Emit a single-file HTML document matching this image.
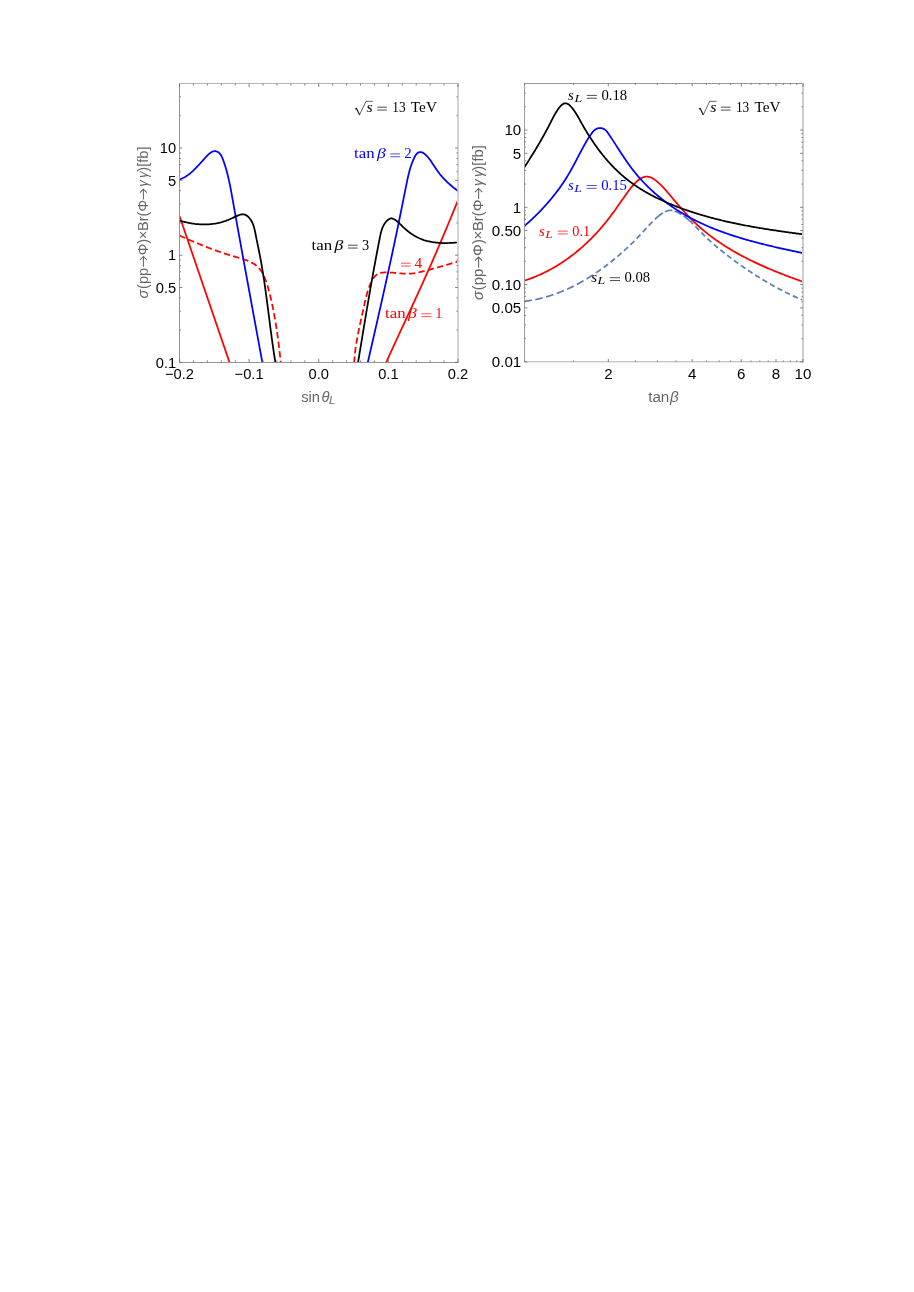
<!DOCTYPE html>
<html lang="en">
<head>
<meta charset="utf-8">
<title>Figure</title>
<style>
html,body{margin:0;padding:0;background:#fff;}
body{width:914px;height:1292px;overflow:hidden;font-family:"Liberation Sans",sans-serif;}
svg{display:block;will-change:transform;}
</style>
</head>
<body>
<svg width="914" height="1292" viewBox="0 0 914 1292">
<defs>
<clipPath id="c1"><rect x="179.5" y="83.5" width="278.5" height="279.2"/></clipPath>
<clipPath id="c2"><rect x="524.5" y="83.5" width="278.5" height="278.7"/></clipPath>
</defs>
<rect width="914" height="1292" fill="#fff"/>
<g clip-path="url(#c1)">
<path d="M179.5,216L229.65,362.8" fill="none" stroke="#ff0000" stroke-width="1.75" stroke-linejoin="round"/>
<path d="M386,362.8L386.5,361.7L386.99,360.6L387.49,359.5L387.99,358.41L388.48,357.31L388.98,356.21L389.48,355.11L389.98,354.01L390.48,352.91L390.99,351.82L391.49,350.72L391.99,349.62L392.49,348.52L393,347.42L393.5,346.33L394.01,345.23L394.51,344.13L395.02,343.03L395.52,341.93L396.03,340.83L396.53,339.74L397.04,338.64L397.55,337.54L398.06,336.44L398.56,335.34L399.07,334.25L399.58,333.15L400.09,332.05L400.6,330.95L401.11,329.85L401.62,328.75L402.13,327.66L402.64,326.56L403.14,325.46L403.65,324.36L404.16,323.26L404.67,322.16L405.18,321.06L405.69,319.96L406.2,318.87L406.71,317.77L407.22,316.67L407.73,315.57L408.24,314.47L408.75,313.37L409.26,312.27L409.77,311.17L410.28,310.07L410.79,308.97L411.3,307.87L411.81,306.77L412.32,305.67L412.83,304.57L413.33,303.47L413.84,302.37L414.35,301.27L414.86,300.17L415.36,299.07L415.87,297.97L416.38,296.87L416.88,295.77L417.39,294.67L417.89,293.56L418.4,292.46L418.9,291.36L419.41,290.26L419.91,289.16L420.41,288.05L420.91,286.95L421.41,285.85L421.92,284.75L422.42,283.64L422.92,282.54L423.41,281.44L423.91,280.33L424.41,279.23L424.91,278.13L425.4,277.02L425.9,275.92L426.4,274.81L426.89,273.71L427.38,272.6L427.88,271.5L428.37,270.39L428.86,269.29L429.35,268.18L429.84,267.08L430.33,265.97L430.81,264.87L431.3,263.76L431.79,262.65L432.27,261.55L432.75,260.44L433.24,259.33L433.72,258.22L434.2,257.11L434.68,256.01L435.16,254.9L435.64,253.79L436.12,252.68L436.6,251.57L437.08,250.46L437.55,249.35L438.03,248.24L438.5,247.13L438.98,246.02L439.45,244.91L439.93,243.8L440.4,242.69L440.87,241.57L441.34,240.46L441.81,239.35L442.28,238.24L442.75,237.12L443.22,236.01L443.69,234.9L444.16,233.78L444.62,232.67L445.09,231.55L445.56,230.44L446.02,229.32L446.49,228.21L446.95,227.09L447.42,225.98L447.88,224.86L448.34,223.74L448.81,222.63L449.27,221.51L449.73,220.39L450.19,219.27L450.66,218.15L451.12,217.03L451.58,215.91L452.04,214.79L452.5,213.67L452.96,212.55L453.42,211.43L453.88,210.31L454.34,209.19L454.8,208.07L455.25,206.94L455.71,205.82L456.17,204.7L456.63,203.57L457.09,202.45L457.54,201.32L458,200.2" fill="none" stroke="#ff0000" stroke-width="1.75" stroke-linejoin="round"/>
<path d="M179.5,235.4L180.63,235.92L181.75,236.44L182.87,236.95L183.99,237.46L185.11,237.96L186.23,238.47L187.35,238.97L188.46,239.46L189.57,239.95L190.69,240.44L191.8,240.93L192.91,241.41L194.02,241.88L195.13,242.36L196.24,242.83L197.35,243.3L198.47,243.76L199.58,244.22L200.69,244.67L201.8,245.13L202.91,245.58L204.03,246.02L205.14,246.46L206.26,246.9L207.37,247.34L208.49,247.77L209.61,248.2L210.73,248.62L211.85,249.04L212.98,249.46L214.11,249.87L215.24,250.28L216.37,250.69L217.5,251.09L218.64,251.49L219.78,251.88L220.93,252.28L222.07,252.66L223.22,253.05L224.38,253.43L225.53,253.81L226.69,254.18L227.86,254.55L229.03,254.92L230.2,255.28L231.38,255.64L232.56,255.99L233.75,256.35L234.94,256.7L236.13,257.04L237.33,257.38L238.53,257.73L239.73,258.08L240.93,258.43L242.12,258.8L243.3,259.17L244.47,259.56L245.63,259.96L246.78,260.38L247.91,260.83L249.02,261.29L250.11,261.79L251.18,262.31L252.22,262.86L253.24,263.45L254.23,264.07L255.19,264.73L256.11,265.43L257,266.17L257.86,266.96L258.67,267.8L259.44,268.69L260.18,269.62L260.88,270.59L261.54,271.6L262.16,272.64L262.76,273.71L263.32,274.79L263.86,275.9L264.37,277.03L264.85,278.16L265.3,279.3L265.74,280.46L266.15,281.62L266.55,282.79L266.93,283.96L267.29,285.14L267.65,286.32L267.99,287.51L268.32,288.69L268.64,289.88L268.96,291.06L269.27,292.25L269.58,293.44L269.88,294.62L270.18,295.81L270.47,296.99L270.75,298.18L271.03,299.36L271.31,300.55L271.58,301.73L271.84,302.92L272.1,304.11L272.36,305.29L272.61,306.48L272.86,307.66L273.1,308.85L273.34,310.03L273.57,311.22L273.8,312.41L274.02,313.59L274.24,314.78L274.46,315.97L274.67,317.15L274.88,318.34L275.09,319.53L275.29,320.72L275.49,321.91L275.68,323.1L275.88,324.29L276.06,325.48L276.25,326.67L276.43,327.86L276.61,329.05L276.79,330.25L276.96,331.44L277.14,332.64L277.3,333.83L277.47,335.03L277.64,336.22L277.8,337.42L277.96,338.62L278.12,339.82L278.27,341.02L278.43,342.22L278.58,343.42L278.73,344.62L278.88,345.83L279.03,347.03L279.17,348.24L279.32,349.45L279.46,350.65L279.6,351.86L279.74,353.07L279.89,354.28L280.02,355.5L280.16,356.71L280.3,357.93L280.44,359.14L280.58,360.36L280.71,361.58L280.85,362.8" fill="none" stroke="#ff0000" stroke-width="1.75" stroke-linejoin="round" stroke-dasharray="6.3 3.3"/>
<path d="M354.2,362.8L354.26,361.61L354.33,360.41L354.41,359.22L354.49,358.02L354.59,356.83L354.7,355.63L354.82,354.43L354.95,353.23L355.08,352.04L355.23,350.84L355.38,349.64L355.54,348.44L355.71,347.24L355.89,346.04L356.07,344.84L356.26,343.64L356.46,342.44L356.66,341.24L356.87,340.04L357.08,338.84L357.3,337.64L357.52,336.44L357.75,335.24L357.99,334.05L358.22,332.85L358.47,331.65L358.71,330.45L358.96,329.26L359.21,328.06L359.46,326.86L359.72,325.67L359.98,324.48L360.24,323.28L360.5,322.09L360.77,320.9L361.03,319.71L361.3,318.52L361.56,317.33L361.83,316.14L362.09,314.96L362.36,313.77L362.62,312.59L362.89,311.41L363.15,310.23L363.41,309.05L363.67,307.87L363.92,306.69L364.18,305.52L364.43,304.34L364.69,303.17L364.94,302L365.2,300.84L365.47,299.67L365.74,298.5L366.02,297.34L366.31,296.18L366.61,295.02L366.92,293.87L367.25,292.71L367.6,291.56L367.96,290.41L368.34,289.27L368.74,288.12L369.16,286.98L369.6,285.84L370.07,284.7L370.57,283.57L371.09,282.43L371.64,281.31L372.23,280.2L372.86,279.12L373.52,278.08L374.24,277.11L375,276.2L375.82,275.38L376.7,274.66L377.65,274.05L378.65,273.56L379.71,273.17L380.82,272.88L381.98,272.66L383.16,272.52L384.37,272.44L385.59,272.41L386.82,272.42L388.06,272.45L389.29,272.5L390.53,272.57L391.76,272.65L392.98,272.74L394.21,272.84L395.43,272.95L396.66,273.06L397.88,273.17L399.09,273.28L400.31,273.38L401.52,273.47L402.74,273.55L403.95,273.62L405.16,273.67L406.36,273.7L407.57,273.71L408.77,273.69L409.97,273.64L411.17,273.57L412.37,273.46L413.56,273.32L414.76,273.15L415.95,272.95L417.14,272.73L418.33,272.49L419.51,272.23L420.7,271.95L421.88,271.66L423.06,271.36L424.24,271.05L425.42,270.74L426.6,270.42L427.77,270.1L428.94,269.79L430.12,269.47L431.29,269.15L432.45,268.83L433.62,268.52L434.79,268.2L435.95,267.88L437.12,267.56L438.28,267.24L439.44,266.91L440.61,266.59L441.77,266.26L442.93,265.93L444.09,265.6L445.25,265.27L446.41,264.94L447.56,264.6L448.72,264.26L449.88,263.91L451.04,263.57L452.2,263.21L453.36,262.86L454.52,262.5L455.68,262.14L456.84,261.77L458,261.4" fill="none" stroke="#ff0000" stroke-width="1.75" stroke-linejoin="round" stroke-dasharray="6.3 3.3"/>
<path d="M179.5,179.5L180.7,179.06L181.87,178.58L183,178.05L184.09,177.49L185.15,176.89L186.18,176.26L187.19,175.6L188.16,174.91L189.11,174.2L190.04,173.45L190.95,172.69L191.84,171.91L192.71,171.11L193.56,170.3L194.41,169.47L195.24,168.64L196.06,167.79L196.88,166.94L197.69,166.09L198.5,165.23L199.31,164.37L200.12,163.5L200.93,162.62L201.74,161.73L202.56,160.82L203.4,159.9L204.24,158.95L205.09,157.99L205.96,157.02L206.85,156.06L207.75,155.13L208.68,154.24L209.63,153.42L210.6,152.68L211.6,152.06L212.62,151.57L213.67,151.26L214.74,151.14L215.84,151.24L216.93,151.55L217.96,152.04L218.88,152.67L219.69,153.44L220.42,154.32L221.06,155.29L221.63,156.34L222.15,157.44L222.63,158.59L223.07,159.76L223.5,160.94L223.91,162.11L224.32,163.29L224.71,164.47L225.08,165.65L225.45,166.83L225.8,168.01L226.15,169.19L226.48,170.37L226.81,171.55L227.12,172.73L227.43,173.91L227.72,175.09L228.01,176.27L228.29,177.45L228.57,178.64L228.83,179.82L229.09,181L229.35,182.18L229.6,183.36L229.84,184.55L230.08,185.73L230.31,186.91L230.54,188.1L230.77,189.28L230.99,190.46L231.21,191.65L231.42,192.83L231.64,194.01L231.85,195.2L232.06,196.38L232.27,197.57L232.49,198.75L232.7,199.94L232.91,201.12L233.12,202.31L233.33,203.49L233.54,204.68L233.75,205.86L233.96,207.05L234.17,208.24L234.39,209.42L234.6,210.61L234.81,211.8L235.02,212.98L235.23,214.17L235.45,215.36L235.66,216.54L235.87,217.73L236.09,218.92L236.3,220.11L236.51,221.29L236.73,222.48L236.94,223.67L237.15,224.86L237.37,226.05L237.58,227.23L237.8,228.42L238.01,229.61L238.23,230.8L238.44,231.99L238.66,233.18L238.87,234.37L239.09,235.55L239.3,236.74L239.52,237.93L239.73,239.12L239.95,240.31L240.16,241.5L240.38,242.69L240.6,243.88L240.81,245.07L241.03,246.26L241.24,247.45L241.46,248.64L241.68,249.83L241.89,251.02L242.11,252.21L242.33,253.4L242.54,254.59L242.76,255.78L242.98,256.97L243.2,258.16L243.41,259.35L243.63,260.54L243.85,261.73L244.07,262.92L244.28,264.11L244.5,265.3L244.72,266.49L244.94,267.68L245.15,268.87L245.37,270.06L245.59,271.26L245.81,272.45L246.03,273.64L246.24,274.83L246.46,276.02L246.68,277.21L246.9,278.4L247.12,279.59L247.34,280.78L247.55,281.97L247.77,283.16L247.99,284.35L248.21,285.54L248.43,286.74L248.65,287.93L248.87,289.12L249.09,290.31L249.3,291.5L249.52,292.69L249.74,293.88L249.96,295.07L250.18,296.26L250.4,297.45L250.62,298.64L250.84,299.83L251.05,301.02L251.27,302.21L251.49,303.4L251.71,304.59L251.93,305.78L252.15,306.97L252.37,308.16L252.59,309.35L252.81,310.54L253.03,311.73L253.24,312.92L253.46,314.11L253.68,315.3L253.9,316.49L254.12,317.68L254.34,318.87L254.56,320.06L254.78,321.25L254.99,322.44L255.21,323.63L255.43,324.82L255.65,326L255.87,327.19L256.09,328.38L256.31,329.57L256.52,330.76L256.74,331.95L256.96,333.14L257.18,334.32L257.4,335.51L257.62,336.7L257.83,337.89L258.05,339.08L258.27,340.26L258.49,341.45L258.71,342.64L258.92,343.83L259.14,345.01L259.36,346.2L259.58,347.39L259.8,348.57L260.01,349.76L260.23,350.95L260.45,352.13L260.67,353.32L260.88,354.5L261.1,355.69L261.32,356.87L261.53,358.06L261.75,359.25L261.97,360.43L262.18,361.62L262.4,362.8" fill="none" stroke="#0000ff" stroke-width="1.75" stroke-linejoin="round"/>
<path d="M367.7,362.8L367.97,361.63L368.24,360.45L368.51,359.28L368.78,358.1L369.05,356.92L369.32,355.75L369.59,354.57L369.86,353.4L370.13,352.22L370.4,351.05L370.67,349.87L370.94,348.69L371.21,347.52L371.48,346.34L371.75,345.16L372.01,343.99L372.28,342.81L372.55,341.63L372.82,340.46L373.09,339.28L373.36,338.1L373.63,336.92L373.9,335.75L374.17,334.57L374.44,333.39L374.71,332.21L374.98,331.04L375.24,329.86L375.51,328.68L375.78,327.5L376.05,326.32L376.32,325.14L376.59,323.96L376.85,322.79L377.12,321.61L377.39,320.43L377.66,319.25L377.92,318.07L378.19,316.89L378.46,315.71L378.73,314.53L378.99,313.35L379.26,312.17L379.53,310.99L379.79,309.81L380.06,308.63L380.33,307.45L380.59,306.27L380.86,305.09L381.12,303.91L381.39,302.73L381.65,301.55L381.92,300.37L382.18,299.19L382.45,298.01L382.71,296.83L382.98,295.65L383.24,294.47L383.5,293.29L383.77,292.11L384.03,290.92L384.29,289.74L384.56,288.56L384.82,287.38L385.08,286.2L385.34,285.02L385.61,283.84L385.87,282.65L386.13,281.47L386.39,280.29L386.65,279.11L386.91,277.93L387.17,276.75L387.43,275.56L387.69,274.38L387.95,273.2L388.21,272.02L388.47,270.84L388.73,269.65L388.98,268.47L389.24,267.29L389.5,266.11L389.76,264.92L390.01,263.74L390.27,262.56L390.53,261.38L390.78,260.19L391.04,259.01L391.29,257.83L391.55,256.65L391.8,255.46L392.06,254.28L392.31,253.1L392.56,251.92L392.82,250.73L393.07,249.55L393.32,248.37L393.57,247.18L393.83,246L394.08,244.82L394.33,243.64L394.58,242.45L394.83,241.27L395.08,240.09L395.33,238.9L395.57,237.72L395.82,236.54L396.07,235.35L396.32,234.17L396.56,232.99L396.81,231.8L397.06,230.62L397.3,229.44L397.55,228.26L397.79,227.07L398.04,225.89L398.28,224.71L398.52,223.52L398.77,222.34L399.01,221.16L399.25,219.97L399.49,218.79L399.74,217.61L399.98,216.42L400.22,215.24L400.46,214.06L400.7,212.87L400.94,211.69L401.18,210.51L401.42,209.33L401.65,208.14L401.89,206.96L402.13,205.78L402.37,204.59L402.61,203.41L402.85,202.23L403.08,201.04L403.32,199.86L403.56,198.68L403.8,197.5L404.04,196.31L404.27,195.13L404.51,193.95L404.75,192.76L404.99,191.58L405.22,190.4L405.46,189.22L405.7,188.03L405.94,186.85L406.17,185.67L406.41,184.48L406.65,183.3L406.89,182.12L407.14,180.94L407.38,179.76L407.64,178.58L407.9,177.4L408.16,176.22L408.44,175.04L408.72,173.87L409.02,172.69L409.33,171.52L409.65,170.35L409.98,169.18L410.33,168.01L410.7,166.85L411.08,165.69L411.48,164.53L411.9,163.37L412.34,162.21L412.8,161.06L413.28,159.91L413.79,158.77L414.32,157.63L414.89,156.5L415.5,155.41L416.18,154.41L416.95,153.54L417.83,152.84L418.81,152.35L419.85,152.12L420.93,152.14L422.01,152.39L423.06,152.85L424.05,153.48L425,154.24L425.9,155.06L426.77,155.91L427.59,156.8L428.39,157.72L429.15,158.67L429.89,159.64L430.61,160.63L431.31,161.63L431.99,162.65L432.67,163.68L433.33,164.71L434,165.74L434.66,166.78L435.33,167.81L436,168.83L436.69,169.84L437.38,170.84L438.1,171.83L438.83,172.79L439.57,173.75L440.33,174.69L441.1,175.61L441.88,176.53L442.68,177.43L443.49,178.31L444.32,179.19L445.15,180.05L446,180.9L446.86,181.74L447.73,182.57L448.61,183.38L449.51,184.19L450.41,184.98L451.33,185.77L452.25,186.54L453.19,187.31L454.13,188.06L455.09,188.81L456.05,189.55L457.02,190.28L458,191" fill="none" stroke="#0000ff" stroke-width="1.75" stroke-linejoin="round"/>
<path d="M179.5,220.6L180.67,220.95L181.85,221.28L183.03,221.59L184.21,221.89L185.4,222.18L186.58,222.45L187.77,222.71L188.96,222.94L190.14,223.17L191.34,223.37L192.53,223.56L193.72,223.73L194.91,223.89L196.11,224.02L197.3,224.14L198.5,224.24L199.69,224.32L200.89,224.39L202.08,224.43L203.28,224.45L204.47,224.46L205.66,224.44L206.86,224.41L208.05,224.35L209.24,224.27L210.43,224.17L211.62,224.05L212.8,223.91L213.99,223.75L215.17,223.56L216.35,223.36L217.53,223.13L218.71,222.87L219.88,222.6L221.06,222.3L222.23,221.97L223.39,221.62L224.56,221.25L225.72,220.86L226.87,220.43L228.03,219.99L229.18,219.51L230.33,219.02L231.47,218.49L232.61,217.95L233.74,217.41L234.87,216.87L236,216.35L237.13,215.86L238.25,215.42L239.37,215.02L240.48,214.7L241.6,214.45L242.71,214.32L243.81,214.38L244.91,214.67L245.97,215.15L246.98,215.79L247.93,216.55L248.8,217.39L249.6,218.28L250.33,219.22L251,220.2L251.6,221.22L252.15,222.27L252.64,223.35L253.09,224.47L253.49,225.6L253.86,226.76L254.2,227.94L254.5,229.13L254.78,230.33L255.05,231.55L255.3,232.76L255.54,233.98L255.77,235.2L256.01,236.41L256.24,237.62L256.48,238.82L256.72,240.02L256.97,241.21L257.21,242.4L257.46,243.58L257.7,244.76L257.95,245.94L258.19,247.11L258.43,248.28L258.67,249.46L258.91,250.63L259.15,251.8L259.38,252.98L259.61,254.15L259.84,255.33L260.07,256.51L260.29,257.69L260.51,258.87L260.73,260.05L260.94,261.23L261.15,262.41L261.36,263.59L261.57,264.78L261.77,265.96L261.97,267.15L262.17,268.33L262.37,269.52L262.57,270.71L262.76,271.9L262.95,273.09L263.14,274.28L263.33,275.47L263.51,276.66L263.69,277.85L263.88,279.05L264.06,280.24L264.23,281.43L264.41,282.63L264.58,283.82L264.76,285.02L264.93,286.21L265.1,287.41L265.27,288.61L265.44,289.8L265.6,291L265.77,292.2L265.93,293.4L266.1,294.6L266.26,295.8L266.42,297L266.58,298.2L266.74,299.4L266.9,300.6L267.06,301.8L267.21,303L267.37,304.2L267.53,305.4L267.68,306.6L267.84,307.8L267.99,309L268.15,310.2L268.3,311.4L268.45,312.61L268.61,313.81L268.76,315.01L268.92,316.21L269.07,317.41L269.22,318.61L269.38,319.81L269.53,321.01L269.68,322.21L269.84,323.41L269.99,324.62L270.15,325.82L270.3,327.02L270.46,328.21L270.62,329.41L270.77,330.61L270.93,331.81L271.09,333.01L271.25,334.21L271.41,335.41L271.57,336.6L271.73,337.8L271.9,339L272.06,340.19L272.22,341.39L272.39,342.58L272.56,343.78L272.73,344.97L272.9,346.17L273.07,347.36L273.24,348.55L273.42,349.74L273.59,350.93L273.77,352.12L273.95,353.31L274.13,354.5L274.31,355.69L274.5,356.88L274.68,358.06L274.87,359.25L275.06,360.43L275.26,361.62L275.45,362.8" fill="none" stroke="#000000" stroke-width="1.75" stroke-linejoin="round"/>
<path d="M358,362.8L358.2,361.6L358.4,360.39L358.6,359.19L358.79,357.99L358.99,356.79L359.19,355.59L359.39,354.39L359.59,353.19L359.78,351.99L359.98,350.79L360.18,349.59L360.37,348.4L360.57,347.2L360.77,346L360.97,344.81L361.16,343.61L361.36,342.41L361.56,341.22L361.75,340.03L361.95,338.83L362.15,337.64L362.34,336.45L362.54,335.25L362.74,334.06L362.93,332.87L363.13,331.68L363.33,330.49L363.53,329.29L363.72,328.1L363.92,326.91L364.12,325.72L364.32,324.53L364.51,323.34L364.71,322.15L364.91,320.97L365.11,319.78L365.31,318.59L365.5,317.4L365.7,316.21L365.9,315.02L366.1,313.83L366.3,312.65L366.5,311.46L366.7,310.27L366.9,309.08L367.1,307.9L367.3,306.71L367.51,305.52L367.71,304.33L367.91,303.15L368.11,301.96L368.31,300.77L368.52,299.59L368.72,298.4L368.92,297.21L369.13,296.03L369.33,294.84L369.54,293.65L369.74,292.46L369.95,291.28L370.16,290.09L370.36,288.9L370.57,287.71L370.78,286.53L370.99,285.34L371.2,284.15L371.41,282.96L371.62,281.78L371.83,280.59L372.04,279.4L372.25,278.21L372.46,277.02L372.67,275.83L372.89,274.64L373.1,273.45L373.32,272.26L373.53,271.07L373.75,269.88L373.96,268.69L374.18,267.5L374.4,266.31L374.62,265.12L374.84,263.93L375.06,262.73L375.28,261.54L375.5,260.35L375.72,259.15L375.95,257.96L376.17,256.77L376.39,255.57L376.62,254.38L376.85,253.18L377.07,251.98L377.3,250.79L377.53,249.59L377.76,248.39L377.99,247.2L378.22,246L378.45,244.8L378.69,243.6L378.92,242.4L379.16,241.2L379.39,240L379.63,238.79L379.87,237.59L380.11,236.39L380.36,235.19L380.62,234L380.9,232.82L381.2,231.65L381.54,230.49L381.9,229.35L382.3,228.23L382.74,227.13L383.23,226.06L383.78,225.02L384.38,224.01L385.04,223.03L385.77,222.08L386.57,221.18L387.45,220.32L388.4,219.54L389.4,218.9L390.45,218.49L391.51,218.39L392.58,218.6L393.64,219.02L394.67,219.56L395.67,220.2L396.65,220.92L397.61,221.71L398.55,222.55L399.48,223.43L400.4,224.33L401.31,225.24L402.21,226.14L403.11,227.02L404,227.87L404.91,228.7L405.82,229.5L406.73,230.29L407.66,231.05L408.61,231.79L409.56,232.52L410.54,233.22L411.53,233.9L412.53,234.56L413.54,235.19L414.57,235.81L415.62,236.4L416.67,236.97L417.74,237.51L418.82,238.03L419.91,238.52L421.02,238.98L422.13,239.42L423.26,239.83L424.39,240.22L425.54,240.57L426.7,240.9L427.86,241.2L429.04,241.47L430.22,241.72L431.41,241.95L432.6,242.15L433.8,242.33L435.01,242.48L436.22,242.62L437.43,242.73L438.65,242.83L439.87,242.91L441.09,242.97L442.31,243.01L443.53,243.04L444.75,243.05L445.98,243.04L447.2,243.03L448.41,243L449.63,242.96L450.84,242.9L452.05,242.84L453.25,242.77L454.45,242.69L455.64,242.6L456.82,242.5L458,242.4" fill="none" stroke="#000000" stroke-width="1.75" stroke-linejoin="round"/>
</g>
<g clip-path="url(#c2)">
<path d="M524.4,301.3L525.61,301.15L526.82,300.99L528.03,300.82L529.23,300.64L530.43,300.44L531.63,300.24L532.82,300.03L534.01,299.8L535.2,299.57L536.39,299.32L537.57,299.07L538.74,298.81L539.92,298.53L541.09,298.25L542.26,297.95L543.42,297.65L544.58,297.34L545.74,297.01L546.89,296.68L548.05,296.34L549.19,295.99L550.34,295.63L551.48,295.26L552.62,294.88L553.75,294.49L554.88,294.1L556.01,293.69L557.14,293.28L558.26,292.86L559.38,292.43L560.49,291.99L561.6,291.54L562.71,291.08L563.82,290.62L564.92,290.15L566.02,289.67L567.11,289.18L568.2,288.68L569.29,288.18L570.38,287.67L571.46,287.15L572.54,286.62L573.61,286.08L574.69,285.54L575.75,284.99L576.82,284.44L577.88,283.87L578.94,283.3L579.99,282.72L581.05,282.14L582.1,281.55L583.14,280.95L584.18,280.34L585.22,279.73L586.26,279.11L587.29,278.49L588.32,277.86L589.34,277.22L590.36,276.58L591.38,275.93L592.39,275.27L593.41,274.61L594.41,273.94L595.42,273.27L596.42,272.59" fill="none" stroke="#5e81b5" stroke-width="1.75" stroke-dasharray="7.6 3.5"/>
<path d="M596.42,272.59L597.42,271.9L598.41,271.21L599.4,270.52L600.39,269.82L601.38,269.11L602.36,268.4L603.34,267.68L604.31,266.96L605.28,266.23L606.25,265.5L607.21,264.76L608.17,264.02L609.13,263.28L610.08,262.53L611.03,261.77L611.98,261.01L612.92,260.25L613.86,259.48L614.8,258.71L615.73,257.93L616.66,257.15L617.59,256.37L618.51,255.58L619.43,254.79L620.35,253.99L621.26,253.19L622.17,252.39L623.08,251.58L623.98,250.77L624.88,249.96L625.77,249.14L626.66,248.33L627.55,247.5L628.43,246.68L629.3,245.85L630.18,245.02L631.04,244.19L631.91,243.35L632.76,242.51L633.62,241.67L634.46,240.83L635.3,239.98L636.14,239.13L636.97,238.29L637.8,237.43L638.61,236.58L639.43,235.72L640.23,234.87L641.03,234.01L641.83,233.15L642.62,232.29L643.41,231.42L644.19,230.56L644.98,229.69L645.77,228.82L646.56,227.96L647.36,227.09L648.16,226.22L648.98,225.35L649.8,224.47L650.64,223.6L651.48,222.73L652.35,221.85L653.23,220.98L654.12,220.11L655.04,219.23L655.98,218.37L656.93,217.51" fill="none" stroke="#5e81b5" stroke-width="1.75" stroke-dasharray="5.5 3.3"/>
<path d="M656.93,217.51L657.91,216.67L658.89,215.85L659.9,215.06L660.92,214.3L661.96,213.58L663.01,212.91L664.07,212.28L665.15,211.71L666.23,211.2L667.33,210.79L668.44,210.49L669.56,210.34L670.69,210.33L671.82,210.44L672.95,210.66L674.07,210.97L675.19,211.36L676.29,211.81L677.38,212.3L678.44,212.82L679.49,213.38L680.52,213.96L681.53,214.58L682.53,215.22L683.51,215.89L684.48,216.58L685.44,217.29L686.38,218.03L687.31,218.79L688.23,219.56L689.14,220.35" fill="none" stroke="#5e81b5" stroke-width="1.75" stroke-dasharray="7.6 2.4"/>
<path d="M689.14,220.35L690.04,221.16L690.93,221.98L691.82,222.82L692.69,223.67L693.56,224.52L694.43,225.39L695.29,226.26L696.15,227.14L697,228.02L697.85,228.9L698.71,229.79L699.56,230.68L700.41,231.56L701.26,232.44L702.11,233.32L702.97,234.19L703.83,235.06L704.7,235.91L705.56,236.76L706.44,237.61L707.31,238.44L708.19,239.27L709.08,240.09L709.96,240.9L710.86,241.71L711.75,242.51L712.65,243.31L713.55,244.1L714.46,244.88L715.37,245.66L716.28,246.44L717.19,247.21L718.11,247.97L719.03,248.74L719.96,249.49L720.89,250.25L721.82,251L722.75,251.75L723.69,252.49L724.63,253.23L725.57,253.97L726.52,254.71L727.46,255.44L728.41,256.17L729.37,256.9L730.32,257.63L731.28,258.35L732.24,259.08L733.21,259.79L734.18,260.51L735.14,261.22L736.12,261.94L737.09,262.64L738.07,263.35L739.05,264.05L740.03,264.75L741.02,265.45L742,266.14L742.99,266.83L743.98,267.52L744.98,268.21L745.98,268.89L746.98,269.57L747.98,270.24L748.98,270.91L749.99,271.58L751,272.25L752.01,272.91L753.02,273.57L754.04,274.23L755.06,274.88L756.08,275.53L757.1,276.18L758.13,276.82L759.15,277.46L760.18,278.09L761.22,278.72L762.25,279.35L763.29,279.98L764.32,280.6L765.37,281.21L766.41,281.83L767.45,282.44L768.5,283.04L769.55,283.64L770.6,284.24L771.65,284.84L772.71,285.43L773.76,286.01L774.82,286.59L775.88,287.17L776.95,287.75L778.01,288.32L779.08,288.88L780.15,289.44L781.22,290L782.29,290.55L783.36,291.1L784.44,291.65L785.52,292.19L786.6,292.72L787.68,293.25L788.76,293.78L789.85,294.3L790.93,294.82L792.02,295.33L793.11,295.84L794.21,296.34L795.3,296.84L796.39,297.34L797.49,297.83L798.59,298.31L799.69,298.79L800.79,299.26L801.89,299.74L803,300.2" fill="none" stroke="#5e81b5" stroke-width="1.75" stroke-dasharray="5.4 3.2"/>
<path d="M524.4,280.6L525.55,280.23L526.7,279.86L527.84,279.47L528.98,279.07L530.12,278.67L531.25,278.25L532.37,277.83L533.5,277.39L534.62,276.95L535.73,276.49L536.85,276.03L537.95,275.56L539.06,275.07L540.16,274.58L541.25,274.08L542.35,273.58L543.43,273.06L544.52,272.53L545.6,272L546.67,271.46L547.74,270.9L548.81,270.34L549.87,269.78L550.93,269.2L551.98,268.61L553.03,268.02L554.08,267.42L555.12,266.81L556.16,266.19L557.19,265.57L558.22,264.94L559.24,264.3L560.26,263.65L561.27,262.99L562.28,262.33L563.29,261.66L564.29,260.98L565.29,260.3L566.28,259.61L567.27,258.91L568.25,258.2L569.23,257.49L570.2,256.77L571.17,256.05L572.13,255.31L573.09,254.57L574.05,253.83L575,253.08L575.94,252.32L576.88,251.55L577.82,250.78L578.75,250.01L579.67,249.22L580.59,248.43L581.51,247.64L582.42,246.84L583.32,246.03L584.22,245.22L585.12,244.4L586.01,243.58L586.89,242.75L587.77,241.92L588.64,241.08L589.51,240.23L590.37,239.38L591.23,238.53L592.08,237.67L592.93,236.81L593.77,235.94L594.6,235.06L595.43,234.18L596.26,233.3L597.07,232.41L597.89,231.52L598.69,230.63L599.49,229.73L600.28,228.82L601.07,227.91L601.85,227L602.63,226.08L603.4,225.16L604.17,224.24L604.93,223.31L605.68,222.38L606.43,221.44L607.18,220.5L607.92,219.56L608.66,218.61L609.39,217.67L610.12,216.71L610.85,215.76L611.57,214.8L612.28,213.84L613,212.88L613.71,211.91L614.41,210.94L615.12,209.97L615.82,208.99L616.52,208.01L617.21,207.03L617.9,206.05L618.59,205.07L619.28,204.08L619.97,203.09L620.65,202.1L621.33,201.11L622.02,200.12L622.7,199.12L623.39,198.13L624.08,197.13L624.77,196.14L625.47,195.15L626.18,194.16L626.89,193.16L627.61,192.18L628.34,191.19L629.08,190.21L629.83,189.23L630.6,188.25L631.37,187.28L632.17,186.32L632.97,185.37L633.8,184.44L634.64,183.53L635.5,182.65L636.38,181.81L637.29,180.99L638.21,180.22L639.17,179.49L640.14,178.81L641.15,178.2L642.18,177.67L643.24,177.24L644.33,176.93L645.43,176.72L646.55,176.64L647.68,176.67L648.8,176.82L649.92,177.1L651.03,177.5L652.12,178.03L653.18,178.65L654.23,179.35L655.25,180.1L656.24,180.88L657.21,181.67L658.15,182.47L659.07,183.29L659.97,184.13L660.85,184.97L661.71,185.83L662.55,186.69L663.38,187.57L664.2,188.45L665.01,189.34L665.81,190.24L666.59,191.15L667.38,192.06L668.15,192.97L668.93,193.88L669.7,194.8L670.48,195.72L671.25,196.64L672.02,197.56L672.8,198.48L673.58,199.41L674.35,200.33L675.13,201.25L675.91,202.17L676.69,203.09L677.48,204.01L678.27,204.92L679.06,205.84L679.85,206.75L680.64,207.66L681.44,208.57L682.24,209.48L683.04,210.38L683.85,211.28L684.66,212.18L685.48,213.07L686.29,213.96L687.12,214.85L687.94,215.73L688.78,216.61L689.61,217.48L690.45,218.35L691.3,219.21L692.15,220.06L693.01,220.91L693.88,221.76L694.74,222.6L695.62,223.43L696.5,224.25L697.39,225.07L698.28,225.88L699.18,226.69L700.08,227.49L700.99,228.28L701.91,229.07L702.83,229.85L703.75,230.62L704.68,231.39L705.62,232.15L706.56,232.91L707.5,233.66L708.45,234.4L709.41,235.14L710.37,235.87L711.33,236.6L712.3,237.32L713.27,238.03L714.25,238.74L715.23,239.45L716.21,240.14L717.2,240.83L718.19,241.52L719.19,242.2L720.19,242.88L721.19,243.55L722.2,244.21L723.21,244.87L724.22,245.52L725.24,246.17L726.26,246.81L727.28,247.45L728.31,248.08L729.34,248.71L730.37,249.33L731.4,249.95L732.44,250.56L733.49,251.17L734.53,251.77L735.58,252.37L736.63,252.96L737.68,253.55L738.74,254.13L739.8,254.71L740.86,255.29L741.92,255.86L742.99,256.42L744.06,256.98L745.13,257.54L746.2,258.09L747.28,258.64L748.35,259.19L749.44,259.73L750.52,260.26L751.6,260.79L752.69,261.32L753.78,261.85L754.87,262.37L755.96,262.88L757.06,263.39L758.15,263.9L759.25,264.41L760.35,264.91L761.46,265.41L762.56,265.9L763.66,266.39L764.77,266.88L765.88,267.37L766.99,267.85L768.1,268.32L769.21,268.8L770.33,269.27L771.44,269.74L772.56,270.2L773.68,270.67L774.8,271.12L775.92,271.58L777.04,272.03L778.16,272.49L779.28,272.93L780.41,273.38L781.53,273.82L782.66,274.26L783.78,274.7L784.91,275.13L786.04,275.57L787.17,276L788.29,276.42L789.42,276.85L790.55,277.27L791.68,277.7L792.81,278.11L793.95,278.53L795.08,278.95L796.21,279.36L797.34,279.77L798.47,280.18L799.6,280.59L800.74,280.99L801.87,281.4L803,281.8" fill="none" stroke="#ff0000" stroke-width="1.75" stroke-linejoin="round"/>
<path d="M524.4,226L525.3,225.22L526.19,224.44L527.08,223.65L527.97,222.86L528.86,222.05L529.74,221.25L530.62,220.44L531.5,219.62L532.38,218.8L533.25,217.97L534.12,217.13L534.99,216.29L535.85,215.45L536.71,214.6L537.56,213.75L538.41,212.89L539.26,212.02L540.11,211.15L540.95,210.28L541.78,209.4L542.61,208.51L543.44,207.62L544.26,206.73L545.08,205.83L545.89,204.92L546.7,204.02L547.5,203.1L548.3,202.19L549.1,201.26L549.88,200.34L550.67,199.41L551.44,198.47L552.22,197.53L552.98,196.59L553.74,195.64L554.5,194.69L555.25,193.74L555.99,192.78L556.72,191.81L557.45,190.85L558.18,189.87L558.9,188.9L559.61,187.92L560.31,186.94L561.01,185.95L561.7,184.96L562.38,183.97L563.06,182.98L563.73,181.98L564.39,180.97L565.04,179.97L565.69,178.96L566.33,177.95L566.96,176.93L567.58,175.91L568.2,174.89L568.81,173.86L569.41,172.84L570,171.81L570.59,170.77L571.17,169.74L571.75,168.7L572.32,167.66L572.89,166.61L573.46,165.57L574.02,164.52L574.58,163.47L575.14,162.41L575.7,161.35L576.25,160.3L576.81,159.23L577.37,158.17L577.92,157.1L578.48,156.04L579.04,154.97L579.6,153.89L580.17,152.82L580.74,151.74L581.31,150.66L581.88,149.58L582.47,148.5L583.05,147.42L583.65,146.33L584.24,145.25L584.85,144.16L585.46,143.08L586.09,142L586.72,140.92L587.35,139.86L588,138.8L588.66,137.76L589.33,136.73L590.01,135.71L590.7,134.71L591.41,133.73L592.13,132.78L592.87,131.85L593.64,130.98L594.47,130.19L595.37,129.49L596.34,128.9L597.42,128.46L598.6,128.16L599.87,128.05L601.16,128.13L602.42,128.41L603.61,128.86L604.67,129.46L605.59,130.18L606.4,130.99L607.14,131.88L607.82,132.81L608.48,133.77L609.14,134.73L609.8,135.7L610.46,136.68L611.11,137.66L611.76,138.64L612.41,139.63L613.06,140.63L613.71,141.63L614.36,142.63L615,143.63L615.65,144.64L616.3,145.65L616.95,146.67L617.6,147.68L618.25,148.7L618.9,149.71L619.55,150.73L620.21,151.75L620.86,152.76L621.52,153.78L622.19,154.8L622.85,155.81L623.52,156.82L624.2,157.83L624.87,158.84L625.56,159.85L626.24,160.85L626.94,161.85L627.63,162.85L628.34,163.84L629.04,164.82L629.76,165.81L630.48,166.78L631.21,167.75L631.94,168.72L632.68,169.68L633.43,170.63L634.18,171.58L634.95,172.52L635.71,173.46L636.49,174.39L637.27,175.32L638.05,176.24L638.84,177.15L639.64,178.06L640.45,178.96L641.26,179.85L642.07,180.74L642.9,181.63L643.73,182.51L644.56,183.38L645.4,184.25L646.25,185.11L647.1,185.96L647.95,186.81L648.82,187.65L649.69,188.49L650.56,189.32L651.44,190.14L652.33,190.96L653.22,191.77L654.11,192.58L655.01,193.38L655.92,194.17L656.83,194.96L657.75,195.74L658.67,196.51L659.59,197.28L660.53,198.05L661.46,198.8L662.4,199.55L663.35,200.3L664.3,201.03L665.26,201.76L666.22,202.49L667.18,203.21L668.15,203.92L669.12,204.62L670.1,205.32L671.09,206.02L672.07,206.7L673.07,207.38L674.06,208.05L675.06,208.72L676.07,209.38L677.07,210.04L678.09,210.68L679.1,211.32L680.12,211.96L681.15,212.58L682.18,213.2L683.21,213.82L684.24,214.43L685.28,215.03L686.33,215.62L687.37,216.21L688.43,216.79L689.48,217.37L690.54,217.94L691.6,218.5L692.66,219.06L693.73,219.61L694.8,220.15L695.87,220.69L696.95,221.23L698.03,221.75L699.12,222.27L700.2,222.79L701.29,223.3L702.39,223.81L703.48,224.31L704.58,224.8L705.68,225.29L706.78,225.77L707.89,226.25L709,226.72L710.11,227.19L711.22,227.66L712.34,228.11L713.46,228.57L714.58,229.01L715.71,229.46L716.83,229.9L717.96,230.33L719.09,230.76L720.22,231.18L721.36,231.6L722.5,232.02L723.63,232.43L724.77,232.84L725.92,233.24L727.06,233.64L728.21,234.03L729.36,234.42L730.51,234.81L731.66,235.19L732.81,235.56L733.96,235.94L735.12,236.31L736.28,236.67L737.44,237.04L738.6,237.4L739.76,237.75L740.92,238.1L742.08,238.45L743.25,238.79L744.41,239.14L745.58,239.47L746.75,239.81L747.92,240.14L749.09,240.47L750.26,240.79L751.43,241.12L752.6,241.44L753.78,241.75L754.95,242.07L756.12,242.38L757.3,242.68L758.47,242.99L759.65,243.29L760.82,243.59L762,243.89L763.18,244.19L764.35,244.48L765.53,244.77L766.71,245.06L767.89,245.34L769.06,245.63L770.24,245.91L771.42,246.19L772.59,246.47L773.77,246.74L774.95,247.02L776.12,247.29L777.3,247.56L778.48,247.83L779.65,248.1L780.83,248.36L782,248.63L783.18,248.89L784.35,249.15L785.52,249.41L786.69,249.67L787.86,249.93L789.04,250.19L790.2,250.44L791.37,250.7L792.54,250.95L793.71,251.2L794.87,251.46L796.04,251.71L797.2,251.96L798.36,252.21L799.52,252.46L800.68,252.7L801.84,252.95L803,253.2" fill="none" stroke="#0000ff" stroke-width="1.75" stroke-linejoin="round"/>
<path d="M524.4,167.2L525.05,166.2L525.7,165.2L526.35,164.19L527,163.18L527.65,162.17L528.3,161.16L528.94,160.15L529.59,159.13L530.23,158.11L530.87,157.09L531.51,156.06L532.15,155.04L532.78,154.01L533.42,152.98L534.05,151.95L534.68,150.92L535.31,149.88L535.94,148.84L536.56,147.81L537.18,146.77L537.8,145.72L538.41,144.68L539.03,143.64L539.64,142.59L540.24,141.54L540.85,140.5L541.45,139.45L542.05,138.4L542.64,137.34L543.23,136.29L543.82,135.24L544.41,134.18L544.99,133.13L545.56,132.07L546.14,131.01L546.7,129.96L547.27,128.9L547.83,127.84L548.38,126.78L548.94,125.72L549.48,124.66L550.03,123.6L550.56,122.54L551.1,121.48L551.63,120.41L552.17,119.35L552.72,118.29L553.27,117.23L553.83,116.18L554.41,115.12L555.01,114.07L555.63,113.01L556.27,111.96L556.94,110.92L557.64,109.87L558.38,108.83L559.15,107.79L559.96,106.77L560.81,105.8L561.7,104.94L562.63,104.23L563.6,103.71L564.61,103.41L565.62,103.32L566.64,103.46L567.64,103.83L568.61,104.42L569.55,105.18L570.45,106.06L571.31,106.99L572.13,107.95L572.91,108.92L573.66,109.9L574.38,110.89L575.07,111.9L575.73,112.91L576.37,113.93L576.99,114.96L577.6,116L578.19,117.04L578.78,118.08L579.36,119.13L579.93,120.18L580.5,121.23L581.08,122.28L581.66,123.33L582.25,124.38L582.84,125.42L583.43,126.47L584.04,127.51L584.64,128.55L585.26,129.58L585.87,130.62L586.5,131.65L587.12,132.68L587.76,133.71L588.4,134.73L589.04,135.76L589.69,136.78L590.35,137.79L591.01,138.81L591.67,139.82L592.34,140.82L593.02,141.83L593.7,142.82L594.39,143.82L595.09,144.81L595.79,145.8L596.49,146.78L597.2,147.76L597.92,148.74L598.64,149.71L599.37,150.68L600.1,151.64L600.85,152.59L601.59,153.55L602.34,154.49L603.1,155.43L603.86,156.37L604.63,157.3L605.41,158.23L606.19,159.15L606.98,160.06L607.77,160.97L608.57,161.87L609.38,162.77L610.19,163.66L611.01,164.54L611.83,165.42L612.66,166.29L613.5,167.16L614.34,168.02L615.19,168.87L616.05,169.71L616.91,170.55L617.78,171.38L618.65,172.2L619.54,173.01L620.42,173.82L621.32,174.62L622.22,175.41L623.13,176.2L624.04,176.97L624.96,177.74L625.89,178.5L626.82,179.25L627.76,179.99L628.71,180.73L629.66,181.45L630.62,182.17L631.59,182.88L632.56,183.58L633.53,184.28L634.52,184.96L635.51,185.64L636.5,186.31L637.5,186.98L638.51,187.63L639.52,188.28L640.53,188.92L641.55,189.56L642.58,190.18L643.61,190.8L644.65,191.41L645.69,192.02L646.73,192.62L647.78,193.21L648.83,193.79L649.89,194.37L650.95,194.94L652.02,195.51L653.09,196.07L654.16,196.62L655.24,197.16L656.32,197.7L657.4,198.24L658.49,198.76L659.58,199.28L660.68,199.8L661.78,200.31L662.88,200.81L663.98,201.31L665.09,201.8L666.19,202.28L667.31,202.76L668.42,203.24L669.53,203.71L670.65,204.17L671.77,204.63L672.9,205.09L674.02,205.54L675.15,205.98L676.27,206.42L677.4,206.85L678.54,207.28L679.67,207.71L680.8,208.13L681.94,208.54L683.07,208.95L684.21,209.36L685.35,209.76L686.49,210.16L687.63,210.55L688.77,210.94L689.91,211.32L691.06,211.7L692.2,212.08L693.35,212.45L694.49,212.82L695.64,213.18L696.79,213.54L697.94,213.9L699.09,214.25L700.24,214.6L701.39,214.94L702.55,215.28L703.7,215.62L704.86,215.95L706.01,216.28L707.17,216.6L708.33,216.92L709.49,217.24L710.65,217.55L711.81,217.86L712.97,218.17L714.13,218.48L715.3,218.78L716.46,219.07L717.63,219.37L718.79,219.66L719.96,219.94L721.13,220.23L722.29,220.51L723.46,220.79L724.63,221.06L725.8,221.33L726.98,221.6L728.15,221.86L729.32,222.13L730.49,222.39L731.67,222.64L732.84,222.9L734.02,223.15L735.19,223.4L736.37,223.64L737.55,223.88L738.73,224.13L739.9,224.36L741.08,224.6L742.26,224.83L743.44,225.06L744.62,225.29L745.81,225.51L746.99,225.74L748.17,225.96L749.35,226.18L750.54,226.39L751.72,226.61L752.91,226.82L754.09,227.03L755.28,227.24L756.46,227.44L757.65,227.65L758.84,227.85L760.03,228.05L761.21,228.24L762.4,228.44L763.59,228.64L764.78,228.83L765.97,229.02L767.16,229.21L768.35,229.4L769.54,229.58L770.73,229.77L771.93,229.95L773.12,230.13L774.31,230.31L775.5,230.49L776.7,230.67L777.89,230.84L779.08,231.02L780.28,231.19L781.47,231.36L782.66,231.53L783.86,231.7L785.05,231.87L786.25,232.04L787.44,232.21L788.64,232.37L789.84,232.54L791.03,232.7L792.23,232.86L793.42,233.03L794.62,233.19L795.82,233.35L797.01,233.51L798.21,233.67L799.41,233.83L800.61,233.99L801.8,234.14L803,234.3" fill="none" stroke="#000000" stroke-width="1.75" stroke-linejoin="round"/>
</g>
<rect x="179" y="83" width="1" height="280" fill="rgb(150,150,150)" shape-rendering="crispEdges"/>
<rect x="179" y="83" width="280" height="1" fill="rgb(182,182,182)" shape-rendering="crispEdges"/>
<rect x="179" y="362" width="280" height="1" fill="rgb(150,150,150)" shape-rendering="crispEdges"/>
<rect x="457" y="83" width="2" height="280" fill="rgb(212,212,212)" shape-rendering="crispEdges"/>
<rect x="524" y="83" width="1" height="279" fill="rgb(158,158,158)" shape-rendering="crispEdges"/>
<rect x="524" y="83" width="280" height="1" fill="rgb(152,152,152)" shape-rendering="crispEdges"/>
<rect x="524" y="361" width="280" height="1" fill="rgb(200,200,200)" shape-rendering="crispEdges"/>
<rect x="524" y="362" width="280" height="1" fill="rgb(232,232,232)" shape-rendering="crispEdges"/>
<rect x="802" y="83" width="2" height="280" fill="rgb(206,206,206)" shape-rendering="crispEdges"/>
<line x1="179.5" y1="362.4" x2="179.5" y2="358.9" stroke="#666666" stroke-width="0.8"/>
<line x1="179.5" y1="83.5" x2="179.5" y2="87" stroke="#666666" stroke-width="0.8"/>
<line x1="193.42" y1="362.4" x2="193.42" y2="360.3" stroke="#666666" stroke-width="0.8"/>
<line x1="193.42" y1="83.5" x2="193.42" y2="85.6" stroke="#666666" stroke-width="0.8"/>
<line x1="207.35" y1="362.4" x2="207.35" y2="360.3" stroke="#666666" stroke-width="0.8"/>
<line x1="207.35" y1="83.5" x2="207.35" y2="85.6" stroke="#666666" stroke-width="0.8"/>
<line x1="221.28" y1="362.4" x2="221.28" y2="360.3" stroke="#666666" stroke-width="0.8"/>
<line x1="221.28" y1="83.5" x2="221.28" y2="85.6" stroke="#666666" stroke-width="0.8"/>
<line x1="235.2" y1="362.4" x2="235.2" y2="360.3" stroke="#666666" stroke-width="0.8"/>
<line x1="235.2" y1="83.5" x2="235.2" y2="85.6" stroke="#666666" stroke-width="0.8"/>
<line x1="249.12" y1="362.4" x2="249.12" y2="358.9" stroke="#666666" stroke-width="0.8"/>
<line x1="249.12" y1="83.5" x2="249.12" y2="87" stroke="#666666" stroke-width="0.8"/>
<line x1="263.05" y1="362.4" x2="263.05" y2="360.3" stroke="#666666" stroke-width="0.8"/>
<line x1="263.05" y1="83.5" x2="263.05" y2="85.6" stroke="#666666" stroke-width="0.8"/>
<line x1="276.98" y1="362.4" x2="276.98" y2="360.3" stroke="#666666" stroke-width="0.8"/>
<line x1="276.98" y1="83.5" x2="276.98" y2="85.6" stroke="#666666" stroke-width="0.8"/>
<line x1="290.9" y1="362.4" x2="290.9" y2="360.3" stroke="#666666" stroke-width="0.8"/>
<line x1="290.9" y1="83.5" x2="290.9" y2="85.6" stroke="#666666" stroke-width="0.8"/>
<line x1="304.82" y1="362.4" x2="304.82" y2="360.3" stroke="#666666" stroke-width="0.8"/>
<line x1="304.82" y1="83.5" x2="304.82" y2="85.6" stroke="#666666" stroke-width="0.8"/>
<line x1="318.75" y1="362.4" x2="318.75" y2="358.9" stroke="#666666" stroke-width="0.8"/>
<line x1="318.75" y1="83.5" x2="318.75" y2="87" stroke="#666666" stroke-width="0.8"/>
<line x1="332.67" y1="362.4" x2="332.67" y2="360.3" stroke="#666666" stroke-width="0.8"/>
<line x1="332.67" y1="83.5" x2="332.67" y2="85.6" stroke="#666666" stroke-width="0.8"/>
<line x1="346.6" y1="362.4" x2="346.6" y2="360.3" stroke="#666666" stroke-width="0.8"/>
<line x1="346.6" y1="83.5" x2="346.6" y2="85.6" stroke="#666666" stroke-width="0.8"/>
<line x1="360.52" y1="362.4" x2="360.52" y2="360.3" stroke="#666666" stroke-width="0.8"/>
<line x1="360.52" y1="83.5" x2="360.52" y2="85.6" stroke="#666666" stroke-width="0.8"/>
<line x1="374.45" y1="362.4" x2="374.45" y2="360.3" stroke="#666666" stroke-width="0.8"/>
<line x1="374.45" y1="83.5" x2="374.45" y2="85.6" stroke="#666666" stroke-width="0.8"/>
<line x1="388.38" y1="362.4" x2="388.38" y2="358.9" stroke="#666666" stroke-width="0.8"/>
<line x1="388.38" y1="83.5" x2="388.38" y2="87" stroke="#666666" stroke-width="0.8"/>
<line x1="402.3" y1="362.4" x2="402.3" y2="360.3" stroke="#666666" stroke-width="0.8"/>
<line x1="402.3" y1="83.5" x2="402.3" y2="85.6" stroke="#666666" stroke-width="0.8"/>
<line x1="416.23" y1="362.4" x2="416.23" y2="360.3" stroke="#666666" stroke-width="0.8"/>
<line x1="416.23" y1="83.5" x2="416.23" y2="85.6" stroke="#666666" stroke-width="0.8"/>
<line x1="430.15" y1="362.4" x2="430.15" y2="360.3" stroke="#666666" stroke-width="0.8"/>
<line x1="430.15" y1="83.5" x2="430.15" y2="85.6" stroke="#666666" stroke-width="0.8"/>
<line x1="444.07" y1="362.4" x2="444.07" y2="360.3" stroke="#666666" stroke-width="0.8"/>
<line x1="444.07" y1="83.5" x2="444.07" y2="85.6" stroke="#666666" stroke-width="0.8"/>
<line x1="458" y1="362.4" x2="458" y2="358.9" stroke="#666666" stroke-width="0.8"/>
<line x1="458" y1="83.5" x2="458" y2="87" stroke="#666666" stroke-width="0.8"/>
<line x1="179.5" y1="362.4" x2="182.4" y2="362.4" stroke="#666666" stroke-width="0.8"/>
<line x1="458" y1="362.4" x2="455.1" y2="362.4" stroke="#666666" stroke-width="0.8"/>
<line x1="179.5" y1="330.13" x2="181" y2="330.13" stroke="#666666" stroke-width="0.8"/>
<line x1="458" y1="330.13" x2="456.5" y2="330.13" stroke="#666666" stroke-width="0.8"/>
<line x1="179.5" y1="311.26" x2="181" y2="311.26" stroke="#666666" stroke-width="0.8"/>
<line x1="458" y1="311.26" x2="456.5" y2="311.26" stroke="#666666" stroke-width="0.8"/>
<line x1="179.5" y1="297.87" x2="181" y2="297.87" stroke="#666666" stroke-width="0.8"/>
<line x1="458" y1="297.87" x2="456.5" y2="297.87" stroke="#666666" stroke-width="0.8"/>
<line x1="179.5" y1="287.48" x2="182.4" y2="287.48" stroke="#666666" stroke-width="0.8"/>
<line x1="458" y1="287.48" x2="455.1" y2="287.48" stroke="#666666" stroke-width="0.8"/>
<line x1="179.5" y1="278.99" x2="181" y2="278.99" stroke="#666666" stroke-width="0.8"/>
<line x1="458" y1="278.99" x2="456.5" y2="278.99" stroke="#666666" stroke-width="0.8"/>
<line x1="179.5" y1="271.82" x2="181" y2="271.82" stroke="#666666" stroke-width="0.8"/>
<line x1="458" y1="271.82" x2="456.5" y2="271.82" stroke="#666666" stroke-width="0.8"/>
<line x1="179.5" y1="265.6" x2="181" y2="265.6" stroke="#666666" stroke-width="0.8"/>
<line x1="458" y1="265.6" x2="456.5" y2="265.6" stroke="#666666" stroke-width="0.8"/>
<line x1="179.5" y1="260.12" x2="181" y2="260.12" stroke="#666666" stroke-width="0.8"/>
<line x1="458" y1="260.12" x2="456.5" y2="260.12" stroke="#666666" stroke-width="0.8"/>
<line x1="179.5" y1="255.22" x2="182.4" y2="255.22" stroke="#666666" stroke-width="0.8"/>
<line x1="458" y1="255.22" x2="455.1" y2="255.22" stroke="#666666" stroke-width="0.8"/>
<line x1="179.5" y1="222.95" x2="181" y2="222.95" stroke="#666666" stroke-width="0.8"/>
<line x1="458" y1="222.95" x2="456.5" y2="222.95" stroke="#666666" stroke-width="0.8"/>
<line x1="179.5" y1="204.08" x2="181" y2="204.08" stroke="#666666" stroke-width="0.8"/>
<line x1="458" y1="204.08" x2="456.5" y2="204.08" stroke="#666666" stroke-width="0.8"/>
<line x1="179.5" y1="190.68" x2="181" y2="190.68" stroke="#666666" stroke-width="0.8"/>
<line x1="458" y1="190.68" x2="456.5" y2="190.68" stroke="#666666" stroke-width="0.8"/>
<line x1="179.5" y1="180.3" x2="182.4" y2="180.3" stroke="#666666" stroke-width="0.8"/>
<line x1="458" y1="180.3" x2="455.1" y2="180.3" stroke="#666666" stroke-width="0.8"/>
<line x1="179.5" y1="171.81" x2="181" y2="171.81" stroke="#666666" stroke-width="0.8"/>
<line x1="458" y1="171.81" x2="456.5" y2="171.81" stroke="#666666" stroke-width="0.8"/>
<line x1="179.5" y1="164.63" x2="181" y2="164.63" stroke="#666666" stroke-width="0.8"/>
<line x1="458" y1="164.63" x2="456.5" y2="164.63" stroke="#666666" stroke-width="0.8"/>
<line x1="179.5" y1="158.42" x2="181" y2="158.42" stroke="#666666" stroke-width="0.8"/>
<line x1="458" y1="158.42" x2="456.5" y2="158.42" stroke="#666666" stroke-width="0.8"/>
<line x1="179.5" y1="152.94" x2="181" y2="152.94" stroke="#666666" stroke-width="0.8"/>
<line x1="458" y1="152.94" x2="456.5" y2="152.94" stroke="#666666" stroke-width="0.8"/>
<line x1="179.5" y1="148.03" x2="182.4" y2="148.03" stroke="#666666" stroke-width="0.8"/>
<line x1="458" y1="148.03" x2="455.1" y2="148.03" stroke="#666666" stroke-width="0.8"/>
<line x1="179.5" y1="115.77" x2="181" y2="115.77" stroke="#666666" stroke-width="0.8"/>
<line x1="458" y1="115.77" x2="456.5" y2="115.77" stroke="#666666" stroke-width="0.8"/>
<line x1="179.5" y1="96.89" x2="181" y2="96.89" stroke="#666666" stroke-width="0.8"/>
<line x1="458" y1="96.89" x2="456.5" y2="96.89" stroke="#666666" stroke-width="0.8"/>
<line x1="524.5" y1="361.9" x2="524.5" y2="360.4" stroke="#666666" stroke-width="0.8"/>
<line x1="524.5" y1="83.5" x2="524.5" y2="85" stroke="#666666" stroke-width="0.8"/>
<line x1="573.54" y1="361.9" x2="573.54" y2="360.4" stroke="#666666" stroke-width="0.8"/>
<line x1="573.54" y1="83.5" x2="573.54" y2="85" stroke="#666666" stroke-width="0.8"/>
<line x1="608.34" y1="361.9" x2="608.34" y2="359" stroke="#666666" stroke-width="0.8"/>
<line x1="608.34" y1="83.5" x2="608.34" y2="86.4" stroke="#666666" stroke-width="0.8"/>
<line x1="635.33" y1="361.9" x2="635.33" y2="360.4" stroke="#666666" stroke-width="0.8"/>
<line x1="635.33" y1="83.5" x2="635.33" y2="85" stroke="#666666" stroke-width="0.8"/>
<line x1="657.38" y1="361.9" x2="657.38" y2="360.4" stroke="#666666" stroke-width="0.8"/>
<line x1="657.38" y1="83.5" x2="657.38" y2="85" stroke="#666666" stroke-width="0.8"/>
<line x1="676.02" y1="361.9" x2="676.02" y2="360.4" stroke="#666666" stroke-width="0.8"/>
<line x1="676.02" y1="83.5" x2="676.02" y2="85" stroke="#666666" stroke-width="0.8"/>
<line x1="692.17" y1="361.9" x2="692.17" y2="359" stroke="#666666" stroke-width="0.8"/>
<line x1="692.17" y1="83.5" x2="692.17" y2="86.4" stroke="#666666" stroke-width="0.8"/>
<line x1="706.42" y1="361.9" x2="706.42" y2="360.4" stroke="#666666" stroke-width="0.8"/>
<line x1="706.42" y1="83.5" x2="706.42" y2="85" stroke="#666666" stroke-width="0.8"/>
<line x1="719.16" y1="361.9" x2="719.16" y2="360.4" stroke="#666666" stroke-width="0.8"/>
<line x1="719.16" y1="83.5" x2="719.16" y2="85" stroke="#666666" stroke-width="0.8"/>
<line x1="730.69" y1="361.9" x2="730.69" y2="360.4" stroke="#666666" stroke-width="0.8"/>
<line x1="730.69" y1="83.5" x2="730.69" y2="85" stroke="#666666" stroke-width="0.8"/>
<line x1="741.22" y1="361.9" x2="741.22" y2="359" stroke="#666666" stroke-width="0.8"/>
<line x1="741.22" y1="83.5" x2="741.22" y2="86.4" stroke="#666666" stroke-width="0.8"/>
<line x1="750.9" y1="361.9" x2="750.9" y2="360.4" stroke="#666666" stroke-width="0.8"/>
<line x1="750.9" y1="83.5" x2="750.9" y2="85" stroke="#666666" stroke-width="0.8"/>
<line x1="759.86" y1="361.9" x2="759.86" y2="360.4" stroke="#666666" stroke-width="0.8"/>
<line x1="759.86" y1="83.5" x2="759.86" y2="85" stroke="#666666" stroke-width="0.8"/>
<line x1="768.2" y1="361.9" x2="768.2" y2="360.4" stroke="#666666" stroke-width="0.8"/>
<line x1="768.2" y1="83.5" x2="768.2" y2="85" stroke="#666666" stroke-width="0.8"/>
<line x1="776.01" y1="361.9" x2="776.01" y2="359" stroke="#666666" stroke-width="0.8"/>
<line x1="776.01" y1="83.5" x2="776.01" y2="86.4" stroke="#666666" stroke-width="0.8"/>
<line x1="783.34" y1="361.9" x2="783.34" y2="360.4" stroke="#666666" stroke-width="0.8"/>
<line x1="783.34" y1="83.5" x2="783.34" y2="85" stroke="#666666" stroke-width="0.8"/>
<line x1="790.26" y1="361.9" x2="790.26" y2="360.4" stroke="#666666" stroke-width="0.8"/>
<line x1="790.26" y1="83.5" x2="790.26" y2="85" stroke="#666666" stroke-width="0.8"/>
<line x1="796.8" y1="361.9" x2="796.8" y2="360.4" stroke="#666666" stroke-width="0.8"/>
<line x1="796.8" y1="83.5" x2="796.8" y2="85" stroke="#666666" stroke-width="0.8"/>
<line x1="803" y1="361.9" x2="803" y2="359" stroke="#666666" stroke-width="0.8"/>
<line x1="803" y1="83.5" x2="803" y2="86.4" stroke="#666666" stroke-width="0.8"/>
<line x1="524.5" y1="361.9" x2="527.4" y2="361.9" stroke="#666666" stroke-width="0.8"/>
<line x1="803" y1="361.9" x2="800.1" y2="361.9" stroke="#666666" stroke-width="0.8"/>
<line x1="524.5" y1="338.63" x2="526" y2="338.63" stroke="#666666" stroke-width="0.8"/>
<line x1="803" y1="338.63" x2="801.5" y2="338.63" stroke="#666666" stroke-width="0.8"/>
<line x1="524.5" y1="325.02" x2="526" y2="325.02" stroke="#666666" stroke-width="0.8"/>
<line x1="803" y1="325.02" x2="801.5" y2="325.02" stroke="#666666" stroke-width="0.8"/>
<line x1="524.5" y1="315.37" x2="526" y2="315.37" stroke="#666666" stroke-width="0.8"/>
<line x1="803" y1="315.37" x2="801.5" y2="315.37" stroke="#666666" stroke-width="0.8"/>
<line x1="524.5" y1="307.88" x2="527.4" y2="307.88" stroke="#666666" stroke-width="0.8"/>
<line x1="803" y1="307.88" x2="800.1" y2="307.88" stroke="#666666" stroke-width="0.8"/>
<line x1="524.5" y1="301.76" x2="526" y2="301.76" stroke="#666666" stroke-width="0.8"/>
<line x1="803" y1="301.76" x2="801.5" y2="301.76" stroke="#666666" stroke-width="0.8"/>
<line x1="524.5" y1="296.58" x2="526" y2="296.58" stroke="#666666" stroke-width="0.8"/>
<line x1="803" y1="296.58" x2="801.5" y2="296.58" stroke="#666666" stroke-width="0.8"/>
<line x1="524.5" y1="292.1" x2="526" y2="292.1" stroke="#666666" stroke-width="0.8"/>
<line x1="803" y1="292.1" x2="801.5" y2="292.1" stroke="#666666" stroke-width="0.8"/>
<line x1="524.5" y1="288.15" x2="526" y2="288.15" stroke="#666666" stroke-width="0.8"/>
<line x1="803" y1="288.15" x2="801.5" y2="288.15" stroke="#666666" stroke-width="0.8"/>
<line x1="524.5" y1="284.61" x2="527.4" y2="284.61" stroke="#666666" stroke-width="0.8"/>
<line x1="803" y1="284.61" x2="800.1" y2="284.61" stroke="#666666" stroke-width="0.8"/>
<line x1="524.5" y1="261.34" x2="526" y2="261.34" stroke="#666666" stroke-width="0.8"/>
<line x1="803" y1="261.34" x2="801.5" y2="261.34" stroke="#666666" stroke-width="0.8"/>
<line x1="524.5" y1="247.73" x2="526" y2="247.73" stroke="#666666" stroke-width="0.8"/>
<line x1="803" y1="247.73" x2="801.5" y2="247.73" stroke="#666666" stroke-width="0.8"/>
<line x1="524.5" y1="238.08" x2="526" y2="238.08" stroke="#666666" stroke-width="0.8"/>
<line x1="803" y1="238.08" x2="801.5" y2="238.08" stroke="#666666" stroke-width="0.8"/>
<line x1="524.5" y1="230.59" x2="527.4" y2="230.59" stroke="#666666" stroke-width="0.8"/>
<line x1="803" y1="230.59" x2="800.1" y2="230.59" stroke="#666666" stroke-width="0.8"/>
<line x1="524.5" y1="224.47" x2="526" y2="224.47" stroke="#666666" stroke-width="0.8"/>
<line x1="803" y1="224.47" x2="801.5" y2="224.47" stroke="#666666" stroke-width="0.8"/>
<line x1="524.5" y1="219.29" x2="526" y2="219.29" stroke="#666666" stroke-width="0.8"/>
<line x1="803" y1="219.29" x2="801.5" y2="219.29" stroke="#666666" stroke-width="0.8"/>
<line x1="524.5" y1="214.81" x2="526" y2="214.81" stroke="#666666" stroke-width="0.8"/>
<line x1="803" y1="214.81" x2="801.5" y2="214.81" stroke="#666666" stroke-width="0.8"/>
<line x1="524.5" y1="210.86" x2="526" y2="210.86" stroke="#666666" stroke-width="0.8"/>
<line x1="803" y1="210.86" x2="801.5" y2="210.86" stroke="#666666" stroke-width="0.8"/>
<line x1="524.5" y1="207.32" x2="527.4" y2="207.32" stroke="#666666" stroke-width="0.8"/>
<line x1="803" y1="207.32" x2="800.1" y2="207.32" stroke="#666666" stroke-width="0.8"/>
<line x1="524.5" y1="184.06" x2="526" y2="184.06" stroke="#666666" stroke-width="0.8"/>
<line x1="803" y1="184.06" x2="801.5" y2="184.06" stroke="#666666" stroke-width="0.8"/>
<line x1="524.5" y1="170.45" x2="526" y2="170.45" stroke="#666666" stroke-width="0.8"/>
<line x1="803" y1="170.45" x2="801.5" y2="170.45" stroke="#666666" stroke-width="0.8"/>
<line x1="524.5" y1="160.79" x2="526" y2="160.79" stroke="#666666" stroke-width="0.8"/>
<line x1="803" y1="160.79" x2="801.5" y2="160.79" stroke="#666666" stroke-width="0.8"/>
<line x1="524.5" y1="153.3" x2="527.4" y2="153.3" stroke="#666666" stroke-width="0.8"/>
<line x1="803" y1="153.3" x2="800.1" y2="153.3" stroke="#666666" stroke-width="0.8"/>
<line x1="524.5" y1="147.18" x2="526" y2="147.18" stroke="#666666" stroke-width="0.8"/>
<line x1="803" y1="147.18" x2="801.5" y2="147.18" stroke="#666666" stroke-width="0.8"/>
<line x1="524.5" y1="142" x2="526" y2="142" stroke="#666666" stroke-width="0.8"/>
<line x1="803" y1="142" x2="801.5" y2="142" stroke="#666666" stroke-width="0.8"/>
<line x1="524.5" y1="137.52" x2="526" y2="137.52" stroke="#666666" stroke-width="0.8"/>
<line x1="803" y1="137.52" x2="801.5" y2="137.52" stroke="#666666" stroke-width="0.8"/>
<line x1="524.5" y1="133.57" x2="526" y2="133.57" stroke="#666666" stroke-width="0.8"/>
<line x1="803" y1="133.57" x2="801.5" y2="133.57" stroke="#666666" stroke-width="0.8"/>
<line x1="524.5" y1="130.03" x2="527.4" y2="130.03" stroke="#666666" stroke-width="0.8"/>
<line x1="803" y1="130.03" x2="800.1" y2="130.03" stroke="#666666" stroke-width="0.8"/>
<line x1="524.5" y1="106.77" x2="526" y2="106.77" stroke="#666666" stroke-width="0.8"/>
<line x1="803" y1="106.77" x2="801.5" y2="106.77" stroke="#666666" stroke-width="0.8"/>
<line x1="524.5" y1="93.16" x2="526" y2="93.16" stroke="#666666" stroke-width="0.8"/>
<line x1="803" y1="93.16" x2="801.5" y2="93.16" stroke="#666666" stroke-width="0.8"/>
<text x="179.5" y="378.8" font-family="'Liberation Sans', sans-serif" font-size="14.7" text-anchor="middle" fill="#000">−0.2</text>
<text x="249.12" y="378.8" font-family="'Liberation Sans', sans-serif" font-size="14.7" text-anchor="middle" fill="#000">−0.1</text>
<text x="318.75" y="378.8" font-family="'Liberation Sans', sans-serif" font-size="14.7" text-anchor="middle" fill="#000">0.0</text>
<text x="388.38" y="378.8" font-family="'Liberation Sans', sans-serif" font-size="14.7" text-anchor="middle" fill="#000">0.1</text>
<text x="458" y="378.8" font-family="'Liberation Sans', sans-serif" font-size="14.7" text-anchor="middle" fill="#000">0.2</text>
<text x="176.2" y="367.66" font-family="'Liberation Sans', sans-serif" font-size="14.7" text-anchor="end" fill="#000">0.1</text>
<text x="176.2" y="292.74" font-family="'Liberation Sans', sans-serif" font-size="14.7" text-anchor="end" fill="#000">0.5</text>
<text x="176.2" y="260.48" font-family="'Liberation Sans', sans-serif" font-size="14.7" text-anchor="end" fill="#000">1</text>
<text x="176.2" y="185.56" font-family="'Liberation Sans', sans-serif" font-size="14.7" text-anchor="end" fill="#000">5</text>
<text x="176.2" y="153.29" font-family="'Liberation Sans', sans-serif" font-size="14.7" text-anchor="end" fill="#000">10</text>
<text x="608.34" y="379" font-family="'Liberation Sans', sans-serif" font-size="15.1" text-anchor="middle" fill="#000">2</text>
<text x="692.17" y="379" font-family="'Liberation Sans', sans-serif" font-size="15.1" text-anchor="middle" fill="#000">4</text>
<text x="741.22" y="379" font-family="'Liberation Sans', sans-serif" font-size="15.1" text-anchor="middle" fill="#000">6</text>
<text x="776.01" y="379" font-family="'Liberation Sans', sans-serif" font-size="15.1" text-anchor="middle" fill="#000">8</text>
<text x="803" y="379" font-family="'Liberation Sans', sans-serif" font-size="15.1" text-anchor="middle" fill="#000">10</text>
<text x="521.2" y="367.31" font-family="'Liberation Sans', sans-serif" font-size="15.1" text-anchor="end" fill="#000">0.01</text>
<text x="521.2" y="313.28" font-family="'Liberation Sans', sans-serif" font-size="15.1" text-anchor="end" fill="#000">0.05</text>
<text x="521.2" y="290.02" font-family="'Liberation Sans', sans-serif" font-size="15.1" text-anchor="end" fill="#000">0.10</text>
<text x="521.2" y="235.99" font-family="'Liberation Sans', sans-serif" font-size="15.1" text-anchor="end" fill="#000">0.50</text>
<text x="521.2" y="212.73" font-family="'Liberation Sans', sans-serif" font-size="15.1" text-anchor="end" fill="#000">1</text>
<text x="521.2" y="158.7" font-family="'Liberation Sans', sans-serif" font-size="15.1" text-anchor="end" fill="#000">5</text>
<text x="521.2" y="135.44" font-family="'Liberation Sans', sans-serif" font-size="15.1" text-anchor="end" fill="#000">10</text>
<g transform="translate(147.9,222.75) rotate(-90) scale(1) translate(-75.35,0)" font-family="'Liberation Sans', sans-serif" font-size="14.6" fill="#666666">
<text x="-0.4" y="0" font-style="italic">σ</text>
<text x="9.2" y="0">(pp</text>
<path d="M31.3,-4.5 H41.4 M38.1,-8 L41.6,-4.5 L38.1,-1" fill="none" stroke="#666666" stroke-width="1.05" stroke-linejoin="miter"/>
<text x="42.8" y="0">Φ)</text>
<text x="58.8" y="0">×</text>
<text x="67.1" y="0">Br(Φ</text>
<path d="M98.6,-4.5 H108.7 M105.4,-8 L108.9,-4.5 L105.4,-1" fill="none" stroke="#666666" stroke-width="1.05" stroke-linejoin="miter"/>
<text x="111.4" y="0" font-style="italic" textLength="6.5" lengthAdjust="spacingAndGlyphs">γ</text>
<text x="120.1" y="0" font-style="italic" textLength="6.5" lengthAdjust="spacingAndGlyphs">γ</text>
<text x="126.4" y="0">)[fb]</text>
</g>
<g transform="translate(483.2,222.7) rotate(-90) scale(1.02) translate(-75.35,0)" font-family="'Liberation Sans', sans-serif" font-size="14.6" fill="#666666">
<text x="-0.4" y="0" font-style="italic">σ</text>
<text x="9.2" y="0">(pp</text>
<path d="M31.3,-4.5 H41.4 M38.1,-8 L41.6,-4.5 L38.1,-1" fill="none" stroke="#666666" stroke-width="1.05" stroke-linejoin="miter"/>
<text x="42.8" y="0">Φ)</text>
<text x="58.8" y="0">×</text>
<text x="67.1" y="0">Br(Φ</text>
<path d="M98.6,-4.5 H108.7 M105.4,-8 L108.9,-4.5 L105.4,-1" fill="none" stroke="#666666" stroke-width="1.05" stroke-linejoin="miter"/>
<text x="111.4" y="0" font-style="italic" textLength="6.5" lengthAdjust="spacingAndGlyphs">γ</text>
<text x="120.1" y="0" font-style="italic" textLength="6.5" lengthAdjust="spacingAndGlyphs">γ</text>
<text x="126.4" y="0">)[fb]</text>
</g>
<text x="301.2" y="402.0" font-family="'Liberation Sans', sans-serif" font-size="14.7" fill="#666666">sin<tspan font-style="italic" dx="1.5">θ</tspan><tspan font-style="italic" font-size="11.3" dy="2.3" dx="-0.4">L</tspan></text>
<text x="648.2" y="401.5" font-family="'Liberation Sans', sans-serif" font-size="15.2" fill="#666666">tan<tspan font-style="italic" dx="0.7">β</tspan></text>
<path d="M355.25,109.3 l1.2,-1.0 l3.05,6.5" fill="none" stroke="#000" stroke-width="1.05" stroke-linejoin="miter"/>
<path d="M359.45,115.1 l6.55,-13.8 h6.9" fill="none" stroke="#000" stroke-width="0.62" stroke-linejoin="miter"/>
<text x="366.5" y="111.7" font-family="'Liberation Serif', serif" font-size="13.6" fill="#000" textLength="6.2" lengthAdjust="spacingAndGlyphs" font-style="italic">s</text>
<line x1="377.2" y1="107.2" x2="386.9" y2="107.2" stroke="#000" stroke-width="0.7"/>
<line x1="377.2" y1="110.05" x2="386.9" y2="110.05" stroke="#000" stroke-width="0.7"/>
<text x="392.2" y="111.7" font-family="'Liberation Serif', serif" font-size="13.6" fill="#000" textLength="13.4" lengthAdjust="spacingAndGlyphs">13</text>
<text x="410.8" y="111.7" font-family="'Liberation Serif', serif" font-size="14" fill="#000" textLength="26.2" lengthAdjust="spacingAndGlyphs">TeV</text>
<path d="M698.95,109.3 l1.2,-1.0 l3.05,6.5" fill="none" stroke="#000" stroke-width="1.05" stroke-linejoin="miter"/>
<path d="M703.15,115.1 l6.55,-13.8 h6.9" fill="none" stroke="#000" stroke-width="0.62" stroke-linejoin="miter"/>
<text x="710.2" y="111.7" font-family="'Liberation Serif', serif" font-size="13.6" fill="#000" textLength="6.2" lengthAdjust="spacingAndGlyphs" font-style="italic">s</text>
<line x1="720.9" y1="107.2" x2="730.6" y2="107.2" stroke="#000" stroke-width="0.7"/>
<line x1="720.9" y1="110.05" x2="730.6" y2="110.05" stroke="#000" stroke-width="0.7"/>
<text x="735.9" y="111.7" font-family="'Liberation Serif', serif" font-size="13.6" fill="#000" textLength="13.4" lengthAdjust="spacingAndGlyphs">13</text>
<text x="754.5" y="111.7" font-family="'Liberation Serif', serif" font-size="14" fill="#000" textLength="26.2" lengthAdjust="spacingAndGlyphs">TeV</text>
<text x="354" y="158.4" font-family="'Liberation Serif', serif" font-size="13.6" fill="#0000ff" textLength="20.6" lengthAdjust="spacingAndGlyphs">tan</text>
<text x="377" y="158.4" font-family="'Liberation Serif', serif" font-size="13.6" fill="#0000ff" textLength="8.8" lengthAdjust="spacingAndGlyphs" font-style="italic">β</text>
<line x1="390.3" y1="153.9" x2="400.1" y2="153.9" stroke="#0000ff" stroke-width="0.7"/>
<line x1="390.3" y1="156.75" x2="400.1" y2="156.75" stroke="#0000ff" stroke-width="0.7"/>
<text x="404.3" y="158.4" font-family="'Liberation Serif', serif" font-size="13.6" fill="#0000ff" textLength="7.5" lengthAdjust="spacingAndGlyphs">2</text>
<text x="311.6" y="249.7" font-family="'Liberation Serif', serif" font-size="13.6" fill="#000000" textLength="20.6" lengthAdjust="spacingAndGlyphs">tan</text>
<text x="334.6" y="249.7" font-family="'Liberation Serif', serif" font-size="13.6" fill="#000000" textLength="8.8" lengthAdjust="spacingAndGlyphs" font-style="italic">β</text>
<line x1="347.9" y1="245.2" x2="357.7" y2="245.2" stroke="#000000" stroke-width="0.7"/>
<line x1="347.9" y1="248.05" x2="357.7" y2="248.05" stroke="#000000" stroke-width="0.7"/>
<text x="361.9" y="249.7" font-family="'Liberation Serif', serif" font-size="13.6" fill="#000000" textLength="7.2" lengthAdjust="spacingAndGlyphs">3</text>
<text x="385.1" y="318.3" font-family="'Liberation Serif', serif" font-size="13.6" fill="#ff0000" textLength="20.6" lengthAdjust="spacingAndGlyphs">tan</text>
<text x="408.1" y="318.3" font-family="'Liberation Serif', serif" font-size="13.6" fill="#ff0000" textLength="8.8" lengthAdjust="spacingAndGlyphs" font-style="italic">β</text>
<line x1="421.4" y1="313.8" x2="431.2" y2="313.8" stroke="#ff0000" stroke-width="0.7"/>
<line x1="421.4" y1="316.65" x2="431.2" y2="316.65" stroke="#ff0000" stroke-width="0.7"/>
<text x="435.4" y="318.3" font-family="'Liberation Serif', serif" font-size="13.6" fill="#ff0000" textLength="6.8" lengthAdjust="spacingAndGlyphs">1</text>
<line x1="401" y1="263.2" x2="410.6" y2="263.2" stroke="#ff0000" stroke-width="0.7"/>
<line x1="401" y1="266.05" x2="410.6" y2="266.05" stroke="#ff0000" stroke-width="0.7"/>
<text x="414.6" y="267.7" font-family="'Liberation Serif', serif" font-size="13.6" fill="#ff0000" textLength="7.6" lengthAdjust="spacingAndGlyphs">4</text>
<text x="568.1" y="99.9" font-family="'Liberation Serif', serif" font-size="13.6" fill="#000000" textLength="5.8" lengthAdjust="spacingAndGlyphs" font-style="italic">s</text>
<text x="574.4" y="101.9" font-family="'Liberation Serif', serif" font-size="9.8" fill="#000000" textLength="7.6" lengthAdjust="spacingAndGlyphs" font-style="italic">L</text>
<line x1="586.8" y1="95.4" x2="596.9" y2="95.4" stroke="#000000" stroke-width="0.7"/>
<line x1="586.8" y1="98.25" x2="596.9" y2="98.25" stroke="#000000" stroke-width="0.7"/>
<text x="601.4" y="99.9" font-family="'Liberation Serif', serif" font-size="13.6" fill="#000000" textLength="25.7" lengthAdjust="spacingAndGlyphs">0.18</text>
<text x="567.9" y="190" font-family="'Liberation Serif', serif" font-size="13.6" fill="#0000ff" textLength="5.8" lengthAdjust="spacingAndGlyphs" font-style="italic">s</text>
<text x="574.2" y="192" font-family="'Liberation Serif', serif" font-size="9.8" fill="#0000ff" textLength="7.6" lengthAdjust="spacingAndGlyphs" font-style="italic">L</text>
<line x1="586.6" y1="185.5" x2="596.7" y2="185.5" stroke="#0000ff" stroke-width="0.7"/>
<line x1="586.6" y1="188.35" x2="596.7" y2="188.35" stroke="#0000ff" stroke-width="0.7"/>
<text x="601.2" y="190" font-family="'Liberation Serif', serif" font-size="13.6" fill="#0000ff" textLength="25.8" lengthAdjust="spacingAndGlyphs">0.15</text>
<text x="539" y="235.6" font-family="'Liberation Serif', serif" font-size="13.6" fill="#ff0000" textLength="5.8" lengthAdjust="spacingAndGlyphs" font-style="italic">s</text>
<text x="545.3" y="237.6" font-family="'Liberation Serif', serif" font-size="9.8" fill="#ff0000" textLength="7.6" lengthAdjust="spacingAndGlyphs" font-style="italic">L</text>
<line x1="557.7" y1="231.1" x2="567.8" y2="231.1" stroke="#ff0000" stroke-width="0.7"/>
<line x1="557.7" y1="233.95" x2="567.8" y2="233.95" stroke="#ff0000" stroke-width="0.7"/>
<text x="572.3" y="235.6" font-family="'Liberation Serif', serif" font-size="13.6" fill="#ff0000" textLength="17.9" lengthAdjust="spacingAndGlyphs">0.1</text>
<text x="591.2" y="282.2" font-family="'Liberation Serif', serif" font-size="13.6" fill="#000000" textLength="5.8" lengthAdjust="spacingAndGlyphs" font-style="italic">s</text>
<text x="597.5" y="284.2" font-family="'Liberation Serif', serif" font-size="9.8" fill="#000000" textLength="7.6" lengthAdjust="spacingAndGlyphs" font-style="italic">L</text>
<line x1="609.9" y1="277.7" x2="620" y2="277.7" stroke="#000000" stroke-width="0.7"/>
<line x1="609.9" y1="280.55" x2="620" y2="280.55" stroke="#000000" stroke-width="0.7"/>
<text x="624.5" y="282.2" font-family="'Liberation Serif', serif" font-size="13.6" fill="#000000" textLength="25.7" lengthAdjust="spacingAndGlyphs">0.08</text>
</svg>
</body>
</html>
